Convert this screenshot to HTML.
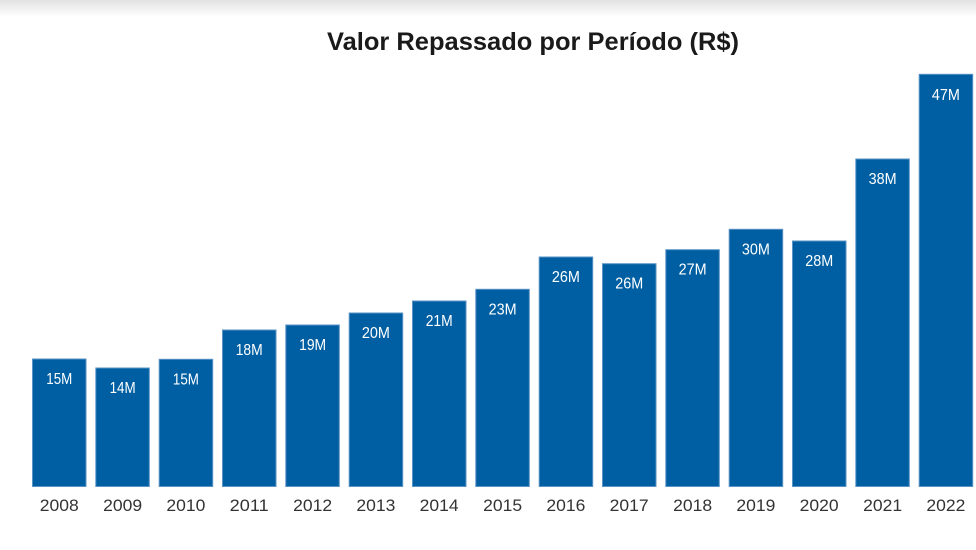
<!DOCTYPE html>
<html><head><meta charset="utf-8"><style>
html,body{margin:0;padding:0;background:#fff;}
body{width:976px;height:550px;overflow:hidden;}
svg{display:block;}
</style></head><body>
<svg width="976" height="550" viewBox="0 0 976 550" xmlns="http://www.w3.org/2000/svg">
<defs>
<linearGradient id="sh" x1="0" y1="0" x2="0" y2="1">
<stop offset="0" stop-color="#e2e2e2"/>
<stop offset="1" stop-color="#ffffff"/>
</linearGradient>
</defs>
<rect x="0" y="0" width="976" height="550" fill="#fff"/>
<rect x="0" y="0" width="976" height="17" fill="url(#sh)"/>
<text x="533" y="50" text-anchor="middle" font-family="Liberation Sans, sans-serif" font-weight="bold" font-size="25" fill="#1a1a1a" textLength="412" lengthAdjust="spacingAndGlyphs">Valor Repassado por Período (R$)</text>
<g fill="#005fa2" stroke="#5a93c6" stroke-width="1">
<rect x="32.5" y="359" width="53.5" height="127.5"/>
<rect x="95.8" y="368" width="53.5" height="118.5"/>
<rect x="159.2" y="359.3" width="53.5" height="127.2"/>
<rect x="222.5" y="330" width="53.5" height="156.5"/>
<rect x="285.8" y="325" width="53.5" height="161.5"/>
<rect x="349.2" y="313" width="53.5" height="173.5"/>
<rect x="412.5" y="301" width="53.5" height="185.5"/>
<rect x="475.8" y="289.3" width="53.5" height="197.2"/>
<rect x="539.2" y="257" width="53.5" height="229.5"/>
<rect x="602.5" y="263.7" width="53.5" height="222.8"/>
<rect x="665.8" y="249.7" width="53.5" height="236.8"/>
<rect x="729.2" y="229.3" width="53.5" height="257.2"/>
<rect x="792.5" y="241" width="53.5" height="245.5"/>
<rect x="855.8" y="159" width="53.5" height="327.5"/>
<rect x="919.2" y="74.3" width="53.5" height="412.2"/>
</g>
<g font-family="Liberation Sans, sans-serif" font-size="16" fill="#ffffff" text-anchor="middle">
<text x="59.3" y="384" textLength="26" lengthAdjust="spacingAndGlyphs">15M</text>
<text x="122.6" y="393" textLength="26" lengthAdjust="spacingAndGlyphs">14M</text>
<text x="185.9" y="384.3" textLength="26" lengthAdjust="spacingAndGlyphs">15M</text>
<text x="249.2" y="355" textLength="27" lengthAdjust="spacingAndGlyphs">18M</text>
<text x="312.6" y="350" textLength="27" lengthAdjust="spacingAndGlyphs">19M</text>
<text x="375.9" y="338" textLength="28" lengthAdjust="spacingAndGlyphs">20M</text>
<text x="439.2" y="326" textLength="27" lengthAdjust="spacingAndGlyphs">21M</text>
<text x="502.6" y="314.3" textLength="28" lengthAdjust="spacingAndGlyphs">23M</text>
<text x="565.9" y="282" textLength="28" lengthAdjust="spacingAndGlyphs">26M</text>
<text x="629.2" y="288.7" textLength="28" lengthAdjust="spacingAndGlyphs">26M</text>
<text x="692.6" y="274.7" textLength="28" lengthAdjust="spacingAndGlyphs">27M</text>
<text x="755.9" y="254.3" textLength="28" lengthAdjust="spacingAndGlyphs">30M</text>
<text x="819.2" y="266" textLength="28" lengthAdjust="spacingAndGlyphs">28M</text>
<text x="882.6" y="184" textLength="28" lengthAdjust="spacingAndGlyphs">38M</text>
<text x="945.9" y="100" textLength="28" lengthAdjust="spacingAndGlyphs">47M</text>
</g>
<g font-family="Liberation Sans, sans-serif" font-size="17" fill="#333333" text-anchor="middle">
<text x="59.3" y="511" textLength="39" lengthAdjust="spacingAndGlyphs">2008</text>
<text x="122.6" y="511" textLength="39" lengthAdjust="spacingAndGlyphs">2009</text>
<text x="185.9" y="511" textLength="39" lengthAdjust="spacingAndGlyphs">2010</text>
<text x="249.2" y="511" textLength="39" lengthAdjust="spacingAndGlyphs">2011</text>
<text x="312.6" y="511" textLength="39" lengthAdjust="spacingAndGlyphs">2012</text>
<text x="375.9" y="511" textLength="39" lengthAdjust="spacingAndGlyphs">2013</text>
<text x="439.2" y="511" textLength="39" lengthAdjust="spacingAndGlyphs">2014</text>
<text x="502.6" y="511" textLength="39" lengthAdjust="spacingAndGlyphs">2015</text>
<text x="565.9" y="511" textLength="39" lengthAdjust="spacingAndGlyphs">2016</text>
<text x="629.2" y="511" textLength="39" lengthAdjust="spacingAndGlyphs">2017</text>
<text x="692.6" y="511" textLength="39" lengthAdjust="spacingAndGlyphs">2018</text>
<text x="755.9" y="511" textLength="39" lengthAdjust="spacingAndGlyphs">2019</text>
<text x="819.2" y="511" textLength="39" lengthAdjust="spacingAndGlyphs">2020</text>
<text x="882.6" y="511" textLength="39" lengthAdjust="spacingAndGlyphs">2021</text>
<text x="945.9" y="511" textLength="39" lengthAdjust="spacingAndGlyphs">2022</text>
</g>
</svg>
</body></html>
